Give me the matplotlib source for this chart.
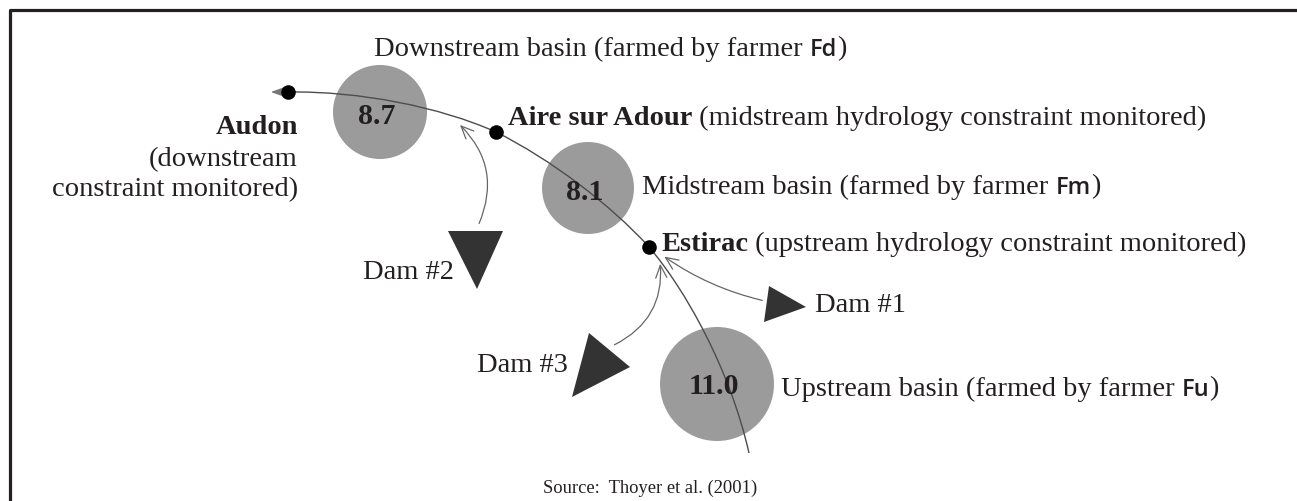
import matplotlib
matplotlib.use("Agg")
import matplotlib.pyplot as plt
from matplotlib.patches import Circle, Polygon, FancyArrowPatch, PathPatch
from matplotlib.path import Path
from matplotlib.offsetbox import TextArea, HPacker, AnnotationBbox

# basins: centre, radius, value
basin_xy = [(380, 113), (588, 189), (717, 385)]
basin_r = [47, 46, 57]
basin_val = ["8.7", "8.1", "11.0"]
basin_txt_xy = [(377, 117), (585, 193), (714, 387)]

# monitoring points on the river
station_xy = [(288, 93), (496, 133), (649, 248)]

# river drawn as bezier pieces (start, ctrl, ctrl, end)
river = [
    [(288, 93), (360, 92), (440, 108), (496, 133)],
    [(496, 133), (550, 160), (610, 205), (649, 248)],
    [(649, 248), (685, 290), (730, 370), (749, 454)],
]

# dams
dam_tri = [
    [(769, 287), (764, 323), (806, 308)],   # Dam #1
    [(448, 232), (503, 232), (477, 290)],   # Dam #2
    [(589, 334), (572, 398), (630, 368)],   # Dam #3
]
dam_arrow = [((765, 302), (662, 256), -0.1),
             ((478, 227), (458, 124), 0.35),
             ((612, 347), (660, 262), 0.35)]

ink = "#231f20"
serif = "Liberation Serif"
fs = 20.5

fig = plt.figure(figsize=(12.97, 5.02), dpi=100)
ax = fig.add_axes([0, 0, 1, 1])
ax.set_xlim(0, 1297)
ax.set_ylim(502, 0)
ax.axis("off")

# frame
ax.plot([9.5, 9.5, 1297], [502, 11, 11], color="#231f20", lw=2.3, solid_capstyle="butt")

for (x, y), r in zip(basin_xy, basin_r):
    ax.add_patch(Circle((x, y), r, color="#9b9b9b", lw=0, zorder=1))

verts, codes = [], []
for seg in river:
    if not verts:
        verts.append(seg[0]); codes.append(Path.MOVETO)
    verts += seg[1:]
    codes += [Path.CURVE4] * 3
ax.add_patch(PathPatch(Path(verts, codes), fc="none", ec="#4d4d4d", lw=1.0, zorder=2))
ax.add_patch(FancyArrowPatch((288, 93), (268, 93), arrowstyle="-|>,head_length=0.7,head_width=0.25",
                             mutation_scale=14, color="#777777", lw=1.0, zorder=2))

for tri in dam_tri:
    ax.add_patch(Polygon(tri, closed=True, color="#333333", lw=0, zorder=2))
for a, b, rad in dam_arrow:
    ax.add_patch(FancyArrowPatch(a, b, connectionstyle="arc3,rad=%s" % rad,
                                 arrowstyle="->,head_length=0.45,head_width=0.2",
                                 mutation_scale=20, color="#666666", lw=0.9, zorder=2))

xs = [p[0] for p in station_xy]
ys = [p[1] for p in station_xy]
ax.scatter(xs, ys, s=110, color="black", zorder=4, lw=0)

for (x, y), v in zip(basin_txt_xy, basin_val):
    ax.text(x, y, v, fontsize=21.5, fontweight="bold", family=serif, color=ink,
            ha="center", va="center", zorder=5)

reg = dict(fontsize=fs, family=serif, color=ink)
bold = dict(fontsize=fs, family=serif, color=ink, fontweight="bold")
sans = dict(fontsize=17, family="Open Sans", color=ink, fontweight="semibold")


def label(parts, xy, align=(0, 0.5)):
    boxes = [TextArea(t, textprops=p) for t, p in parts]
    pack = HPacker(children=boxes, align="baseline", pad=0, sep=0)
    ab = AnnotationBbox(pack, xy, xycoords="data", box_alignment=align,
                        frameon=False, pad=0, zorder=5)
    ax.add_artist(ab)


label([("Downstream basin (farmed by farmer ", reg), ("Fd", sans), (")", reg)], (374, 49))
label([("Aire sur Adour", bold), (" (midstream hydrology constraint monitored)", reg)], (508, 118))
label([("Midstream basin (farmed by farmer ", reg), ("Fm", sans), (")", reg)], (642, 187))
label([("Estirac", bold), (" (upstream hydrology constraint monitored)", reg)], (661, 244))
label([("Upstream basin (farmed by farmer ", reg), ("Fu", sans), (")", reg)], (781, 389))

ax.text(815, 306, "Dam #1", ha="left", va="center", **reg)
ax.text(454, 273, "Dam #2", ha="right", va="center", **reg)
ax.text(568, 366, "Dam #3", ha="right", va="center", **reg)

ax.text(298, 128, "Audon", ha="right", va="center", **bold)
ax.text(298, 160, "(downstream", ha="right", va="center", **reg)
ax.text(298, 190, "constraint monitored)", ha="right", va="center", **reg)

ax.text(650, 488, "Source:  Thoyer et al. (2001)", ha="center", va="center",
        fontsize=13.3, family=serif, color=ink)

fig.savefig("out.png", dpi=100)
